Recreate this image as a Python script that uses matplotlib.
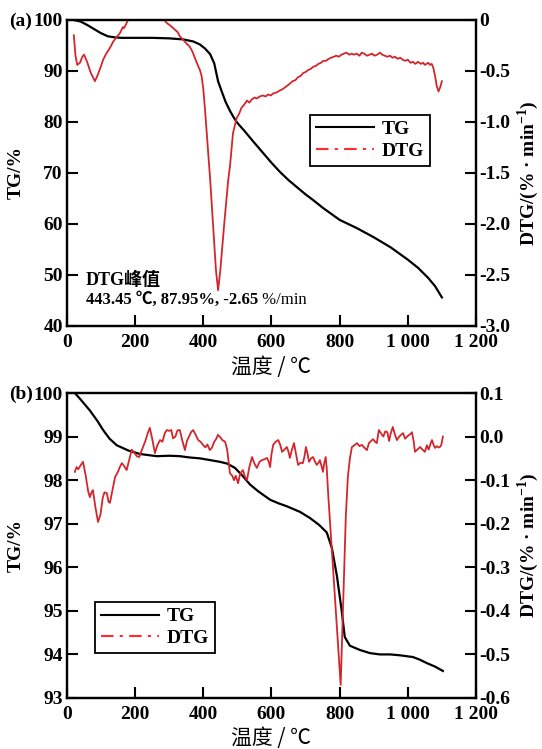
import numpy as np
import matplotlib
import matplotlib.pyplot as plt
from matplotlib.lines import Line2D

matplotlib.use('agg')

plt.rcParams['font.family'] = ['Liberation Serif', 'Noto Sans CJK SC']
plt.rcParams['font.weight'] = 'bold'
plt.rcParams['axes.labelweight'] = 'bold'
plt.rcParams['font.size'] = 14
plt.rcParams['mathtext.fontset'] = 'custom'
plt.rcParams['mathtext.rm'] = 'Liberation Serif:bold'
plt.rcParams['mathtext.bf'] = 'Liberation Serif:bold'

# ---- (a) TG / DTG ----
a_tg_temp = [20, 40, 60, 80, 100, 120, 140, 160, 200, 250, 300, 340, 370, 390, 405, 420,
             432, 443.45, 455, 465, 478, 490, 500, 520, 550, 600, 625, 650, 700, 722, 750,
             800, 850, 900, 950, 1000, 1030, 1060, 1080, 1100]
a_tg = [100, 99.7, 99.0, 98.2, 97.4, 96.8, 96.6, 96.5, 96.5, 96.5, 96.4, 96.2, 95.8, 95.2,
        94.4, 93.3, 91.5, 87.95, 85.8, 84.0, 82.2, 80.8, 79.8, 78.3, 75.9, 72.0, 70.2, 68.6,
        65.8, 64.7, 63.2, 60.8, 59.2, 57.4, 55.4, 53.0, 51.4, 49.4, 47.8, 45.6]

a_dtg_temp = [20, 25, 30, 38, 45, 50, 59, 70, 82, 90, 100, 106, 115, 125, 136, 145, 155, 164,
              167, 172, 179, 200, 230, 260, 285, 293, 305, 315, 325, 331, 340, 350, 360, 368,
              375, 382, 390, 395, 400, 405, 412, 420, 430, 437, 443.45, 450, 460, 473, 478,
              487, 498, 505, 512, 520, 528, 535, 542, 550, 557, 565, 575, 583, 590, 598, 605,
              615, 625, 632, 640, 648, 655, 662, 670, 678, 685, 693, 700, 708, 715, 722, 730,
              738, 745, 752, 760, 768, 775, 783, 790, 798, 805, 812, 820, 828, 835, 842, 850,
              858, 865, 872, 880, 888, 895, 902, 910, 918, 925, 932, 940, 948, 955, 962, 970,
              978, 985, 992, 1000, 1008, 1015, 1022, 1030, 1038, 1045, 1050, 1055, 1060, 1065,
              1070, 1075, 1080, 1085, 1090, 1095, 1100]
a_dtg = [-0.15, -0.35, -0.44, -0.42, -0.36, -0.34, -0.41, -0.52, -0.60, -0.54, -0.45, -0.39,
         -0.33, -0.28, -0.21, -0.17, -0.13, -0.07, -0.08, -0.05, 0.0, 0.0, 0.0, 0.0, 0.0, -0.03,
         -0.06, -0.09, -0.12, -0.16, -0.19, -0.23, -0.26, -0.31, -0.37, -0.43, -0.49, -0.55,
         -0.68, -0.88, -1.20, -1.56, -2.08, -2.45, -2.65, -2.45, -2.05, -1.57, -1.44, -1.11,
         -0.96, -0.92, -0.86, -0.83, -0.79, -0.81, -0.78, -0.76, -0.77, -0.75, -0.74, -0.75,
         -0.73, -0.74, -0.72, -0.71, -0.69, -0.68, -0.66, -0.64, -0.62, -0.60, -0.59, -0.56,
         -0.55, -0.52, -0.51, -0.49, -0.48, -0.46, -0.45, -0.43, -0.42, -0.40, -0.40, -0.38,
         -0.37, -0.36, -0.35, -0.36, -0.34, -0.33, -0.32, -0.34, -0.33, -0.34, -0.33, -0.35,
         -0.32, -0.33, -0.35, -0.34, -0.33, -0.35, -0.34, -0.32, -0.34, -0.35, -0.36,
         -0.35, -0.37, -0.36, -0.38, -0.37, -0.39, -0.40, -0.39, -0.42, -0.41, -0.43, -0.41,
         -0.43, -0.42, -0.44, -0.43, -0.42, -0.44, -0.43, -0.47, -0.55, -0.65, -0.70, -0.66,
         -0.60]

peak_T, peak_TG, peak_DTG = 443.45, 87.95, -2.65

# ---- (b) TG / DTG ----
b_tg_temp = [23, 40, 67, 90, 106, 125, 146, 180, 214, 263, 300, 331, 360, 390, 420, 449, 470,
             493, 515, 537, 560, 596, 620, 645, 684, 713, 740, 762, 777, 792, 806, 815, 830,
             860, 889, 918, 948, 977, 1015, 1035, 1056, 1080, 1103]
b_tg = [100, 99.85, 99.6, 99.35, 99.15, 98.95, 98.8, 98.68, 98.6, 98.55, 98.56, 98.55, 98.52,
        98.5, 98.46, 98.42, 98.38, 98.28, 98.1, 97.9, 97.75, 97.55, 97.47, 97.4, 97.27, 97.13,
        96.97, 96.8, 96.45, 95.8, 95.0, 94.4, 94.2, 94.1, 94.03, 94.0, 94.0, 93.98, 93.94,
        93.88, 93.8, 93.72, 93.62]

b_dtg_temp = [23, 28, 33, 40, 47, 55, 62, 67, 72, 76, 83, 91, 98, 105, 110, 117, 122, 126,
              133, 141, 150, 155, 161, 168, 175, 182, 190, 198, 205, 212, 220, 230, 237, 243,
              250, 258, 265, 273, 280, 287, 293, 300, 306, 311, 318, 324, 331, 338, 346, 352,
              358, 364, 370, 377, 385, 392, 399, 406, 412, 419, 425, 432, 438, 443, 449, 456,
              464, 470, 478, 485, 490, 495, 502, 508, 516, 522, 528, 535, 543, 550, 557, 565,
              572, 580, 587, 592, 596, 600, 605, 612, 620, 626, 631, 638, 645, 650, 654, 660,
              666, 672, 678, 685, 692, 697, 701, 706, 710, 716, 722, 728, 733, 738, 742, 747,
              751, 755, 759, 762, 767, 803, 815, 818, 824, 830, 836, 843, 851, 858, 865, 872,
              880, 886, 892, 898, 904, 909, 915, 921, 928, 934, 940, 945, 950, 956, 962, 968,
              975, 980, 986, 992, 998, 1004, 1008, 1012, 1017, 1021, 1028, 1036, 1043, 1050,
              1056, 1061, 1066, 1071, 1076, 1080, 1085, 1090, 1094, 1098, 1103]
b_dtg = [-0.081, -0.070, -0.075, -0.066, -0.058, -0.090, -0.125, -0.139, -0.128, -0.123,
         -0.160, -0.196, -0.180, -0.140, -0.128, -0.130, -0.150, -0.152, -0.125, -0.093,
         -0.080, -0.070, -0.061, -0.068, -0.077, -0.055, -0.030, -0.038, -0.045, -0.047,
         -0.030, -0.010, 0.008, 0.020, -0.005, -0.038, -0.020, -0.008, -0.012, 0.008, 0.015,
         0.013, 0.015, -0.004, 0.000, 0.014, 0.015, -0.008, -0.031, -0.010, 0.000, 0.010,
         0.015, 0.005, -0.008, -0.012, -0.019, -0.025, -0.018, -0.031, -0.026, -0.012, -0.005,
         0.004, -0.001, -0.008, -0.012, -0.030, -0.084, -0.090, -0.100, -0.090, -0.107,
         -0.085, -0.077, -0.092, -0.100, -0.070, -0.047, -0.062, -0.072, -0.058, -0.054,
         -0.052, -0.049, -0.058, -0.070, -0.040, -0.019, -0.012, -0.008, -0.020, -0.035,
         -0.030, -0.024, -0.035, -0.049, -0.030, -0.015, -0.040, -0.065, -0.060, -0.061,
         -0.045, -0.024, -0.040, -0.058, -0.050, -0.047, -0.058, -0.065, -0.060, -0.054,
         -0.068, -0.081, -0.060, -0.047, -0.072, -0.140, -0.570, -0.260, -0.185, -0.093,
         -0.050, -0.024, -0.020, -0.015, -0.022, -0.019, -0.025, -0.031, -0.015, -0.010,
         -0.006, -0.012, -0.015, 0.015, 0.008, 0.000, 0.012, 0.010, -0.010, 0.008, 0.022,
         0.005, -0.008, 0.000, 0.004, 0.008, -0.005, 0.000, 0.004, 0.006, 0.010, -0.010,
         -0.035, -0.030, -0.024, -0.030, -0.035, -0.020, -0.030, -0.018, -0.008, -0.020,
         -0.026, -0.022, -0.025, -0.024, -0.020, 0.000]

x_ticks = [0, 200, 400, 600, 800, 1000, 1200]
x_labels = ['0', '200', '400', '600', '800', '1 000', '1 200']

a_tg_ticks = [40, 50, 60, 70, 80, 90, 100]
a_dtg_ticks = [0, -0.5, -1.0, -1.5, -2.0, -2.5, -3.0]
a_dtg_labels = ['0', '-0.5', '-1.0', '-1.5', '-2.0', '-2.5', '-3.0']

b_tg_ticks = [93, 94, 95, 96, 97, 98, 99, 100]
b_dtg_ticks = [0.1, 0.0, -0.1, -0.2, -0.3, -0.4, -0.5, -0.6]
b_dtg_labels = ['0.1', '0.0', '-0.1', '-0.2', '-0.3', '-0.4', '-0.5', '-0.6']

tg_color = 'black'
dtg_color = '#d3262c'
cjk = ['Noto Sans CJK SC', 'DejaVu Sans']


def draw_panel(fig, rect, tg_t, tg, dtg_t, dtg, tg_ticks, dtg_ticks, dtg_labels,
               leg_anchor, xlabel_y):
    ax = fig.add_axes(rect)
    ax2 = ax.twinx()

    ax.plot(tg_t, tg, color=tg_color, lw=1.6)
    ax2.plot(dtg_t, dtg, color=dtg_color, lw=1.3)

    ax.set_xlim(0, 1200)
    ax.set_ylim(tg_ticks[0], tg_ticks[-1])
    ax2.set_ylim(dtg_ticks[-1], dtg_ticks[0])

    ax.set_xticks(x_ticks, x_labels)
    ax.set_yticks(tg_ticks, [str(v) for v in tg_ticks])
    ax2.set_yticks(dtg_ticks, dtg_labels)

    ax.tick_params(axis='both', direction='in', length=8, width=1.5, top=False, right=False)
    ax.tick_params(axis='x', pad=6)
    ax.tick_params(axis='y', pad=3)
    ax2.tick_params(axis='y', direction='in', length=8, width=1.5, pad=2)
    for a in (ax, ax2):
        for s in a.spines.values():
            s.set_linewidth(1.6)

    ax.set_ylabel('TG/%')
    ax.yaxis.set_label_coords(-0.103, 0.5)
    ax2.set_ylabel('DTG/(% · min$^{-1}$)')
    ax2.yaxis.set_label_coords(1.097, 0.5)
    ax.set_xlabel('温度 / ℃', family=cjk, fontweight='normal', fontsize=15, va='center')
    ax.xaxis.set_label_coords(0.5, xlabel_y)

    handles = [Line2D([], [], color='black', lw=1.5),
               Line2D([], [], color='#ff2a2a', lw=1.5, dashes=(6, 3, 1.5, 3))]
    ax2.legend(handles, ['TG', 'DTG'], loc='upper left', bbox_to_anchor=leg_anchor,
               borderaxespad=0, handlelength=3.0, handletextpad=0.4, borderpad=0.3,
               labelspacing=0.2, fancybox=False, framealpha=1, edgecolor='black')
    ax2.get_legend().get_frame().set_linewidth(1.3)
    return ax, ax2


fig = plt.figure(figsize=(5.42, 7.49), dpi=100)

ax_a, ax_a2 = draw_panel(fig, [0.1236, 0.5648, 0.7546, 0.4085],
                         a_tg_temp, a_tg, a_dtg_temp, a_dtg,
                         a_tg_ticks, a_dtg_ticks, a_dtg_labels, (0.594, 0.69), -0.134)
ax_b, ax_b2 = draw_panel(fig, [0.1236, 0.0681, 0.7546, 0.4072],
                         b_tg_temp, b_tg, b_dtg_temp, b_dtg,
                         b_tg_ticks, b_dtg_ticks, b_dtg_labels, (0.068, 0.315), -0.131)

# peak note in panel (a)
ax_a.text(0.046, 0.15, 'DTG峰值', transform=ax_a.transAxes, va='center', ha='left',
          fontsize=13)
t1 = ax_a.text(0.046, 0.085, f'{peak_T} ℃, {peak_TG}%, {peak_DTG}',
               transform=ax_a.transAxes, va='center', ha='left', fontsize=12)
ax_a.annotate(' %/min', xy=(1, 0.5), xycoords=t1, va='center', ha='left',
              fontweight='normal', fontsize=12)

fig.text(9 / 542, 1 - 21 / 749, '(a)', ha='left', va='center')
fig.text(9 / 542, 1 - 394 / 749, '(b)', ha='left', va='center')

fig.savefig('out.png', dpi=100)
